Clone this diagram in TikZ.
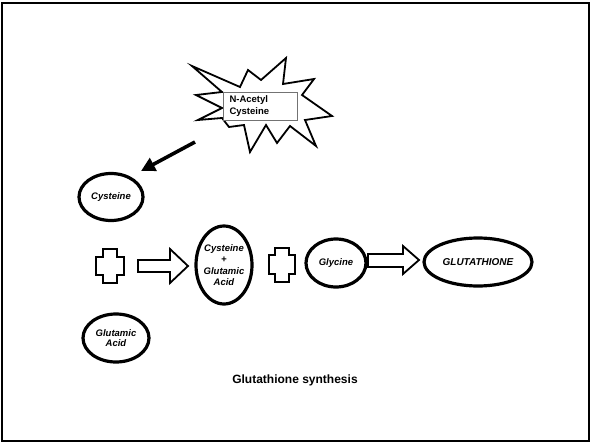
\documentclass[tikz,border=0pt]{standalone}
\usepackage{fontspec}
\setmainfont{Liberation Sans}
\usetikzlibrary{arrows.meta,shapes.geometric}
\begin{document}
\begin{tikzpicture}[x=1pt,y=-1pt,
  oval/.style={draw=black,line width=3.2pt,ellipse,inner sep=0pt,fill=white},
  olab/.style={font=\bfseries\itshape\fontsize{9.5}{11.5}\selectfont,align=center},
  outl/.style={draw=black,line width=1.8pt,fill=white,line join=miter},
  burst/.style={draw=black,line width=1.8pt,fill=white,line join=miter},
  bigarrow/.style={line width=3.6pt,-{Triangle[length=14pt,width=14pt]}}
]
\useasboundingbox (0,0) rectangle (592,444);
\draw[line width=2.2pt] (2,3) rectangle (589,441);

% starburst
\draw[burst] (192,66) -- (240,87) -- (248,70) -- (261,80) -- (286,58) -- (283,84)
  -- (314,79) -- (302,95) -- (332,116) -- (305,120) -- (316,146) -- (290,126)
  -- (277,143) -- (266,125) -- (250,152) -- (244,125) -- (229,127) -- (222,118)
  -- (198,120) -- (222,108) -- (196,95) -- (222,92) -- cycle;
\node[draw=black!55,line width=0.6pt,fill=white,minimum width=74pt,minimum height=28pt,inner sep=0pt] (nacbox) at (260,106) {};
\node[font=\bfseries\fontsize{9.5}{12}\selectfont,align=left,anchor=west] (nac) at (226,106) {N-Acetyl\\Cysteine};

% arrow
\coordinate (nactail) at (195,142);
\coordinate (cystip) at (141,171);
\draw[bigarrow] (nactail) -- (cystip);

% ellipses
\node[oval,minimum width=64pt,minimum height=47pt] (cys) at (111,197) {};
\node[olab] at (cys) {Cysteine};
\node[oval,minimum width=66pt,minimum height=48pt] (glu) at (116,338) {};
\node[olab,font=\bfseries\itshape\fontsize{9.5}{10.5}\selectfont] at (glu) {Glutamic\\Acid};
\node[oval,minimum width=56pt,minimum height=78pt] (cg) at (224,265) {};
\node[olab,font=\bfseries\itshape\fontsize{9.5}{11.5}\selectfont] at (cg) {Cysteine\\+\\Glutamic\\Acid};
\node[oval,minimum width=60pt,minimum height=48pt] (gly) at (336,263) {};
\node[olab] at (gly) {Glycine};
\node[oval,minimum width=108pt,minimum height=48pt] (gsh) at (478,262) {};
\node[olab,font=\bfseries\itshape\fontsize{10}{12}\selectfont] at (gsh) {GLUTATHIONE};

% crosses
\draw[outl] (103,249) -- (117,249) -- (117,257) -- (124,257) -- (124,275) -- (117,275)
  -- (117,283) -- (103,283) -- (103,275) -- (96,275) -- (96,257) -- (103,257) -- cycle;
\draw[outl] (275,248) -- (289,248) -- (289,255) -- (295,255) -- (295,274) -- (289,274)
  -- (289,282) -- (275,282) -- (275,274) -- (269,274) -- (269,255) -- (275,255) -- cycle;

% block arrows
\draw[outl] (138,260) -- (170,260) -- (170,249) -- (188,266) -- (170,283) -- (170,272)
  -- (138,272) -- cycle;
\draw[outl] (368,254) -- (403,254) -- (403,246) -- (419,260) -- (403,274) -- (403,267)
  -- (368,267) -- cycle;

\node[font=\bfseries\fontsize{12}{14}\selectfont] (title) at (295,380) {Glutathione synthesis};
\end{tikzpicture}
\end{document}
